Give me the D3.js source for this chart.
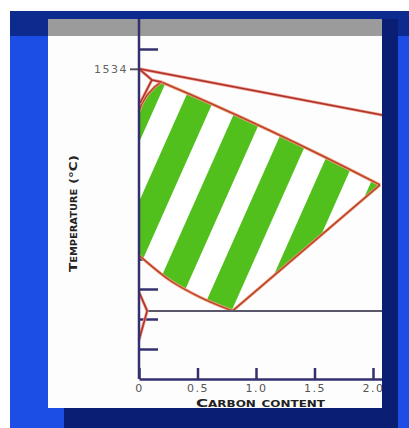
<!DOCTYPE html>
<html>
<head>
<meta charset="utf-8">
<script src="https://cdn.jsdelivr.net/npm/d3@7"></script>
<style>
  body { margin: 0; background: #fff; }
  svg { display: block; }
</style>
</head>
<body>
<svg id="chart" width="409" height="428"></svg>
<script>
// tick values and labels
var xTicks = [0, 0.5, 1.0, 1.5, 2.0]
var xTickLabels = ['0', '0.5', '1.0', '1.5', '2.0']
var yTicks = [600, 700, 800, 900, 1000, 1100, 1200, 1300, 1400, 1600]
var yLabelled = [1534]

// phase boundaries, [carbon %, temperature °C]
var liquidus = [[0, 1534], [2.08, 1380]]
var deltaLine = [[0, 1534], [0.11, 1497], [0.19, 1490], [0.11, 1497], [0.01, 1420]]
var austeniteTop = [[0.19, 1490], [0.13, 1472], [0.07, 1447], [0.025, 1418], [0, 1392]]
var austeniteA3 = [[0, 912], [0.26, 830], [0.52, 773], [0.8, 727]]
var austeniteAcm = [[0.8, 727], [2.06, 1147]]
var austeniteSolidus = [[2.06, 1147], [1.1, 1340], [0.19, 1490]]
var ferriteLine = [[0, 790], [0.07, 727], [0, 630]]
var eutectoid = [[0.07, 727], [2.08, 727]]

var svg = d3.select('#chart')

// slide background
svg.append('rect').attr('x', 10).attr('y', 11).attr('width', 399).attr('height', 417).attr('fill', '#1c4ee6')
svg.append('rect').attr('x', 10).attr('y', 11).attr('width', 399).attr('height', 25).attr('fill', '#0d2b8e')
svg.append('rect').attr('x', 64).attr('y', 19).attr('width', 334).attr('height', 409).attr('fill', '#0a1f74')
svg.append('rect').attr('x', 48).attr('y', 36).attr('width', 334).attr('height', 372).attr('fill', '#fdfdfd')
svg.append('rect').attr('x', 48).attr('y', 19).attr('width', 334).attr('height', 17).attr('fill', '#9b9b9b')

var defs = svg.append('defs')
defs.append('clipPath').attr('id', 'panel')
  .append('rect').attr('x', 48).attr('y', 19).attr('width', 334).attr('height', 389)

var pat = defs.append('pattern')
  .attr('id', 'stripes')
  .attr('patternUnits', 'userSpaceOnUse')
  .attr('width', 51).attr('height', 10)
  .attr('patternTransform', 'rotate(24)')
pat.append('rect').attr('width', 51).attr('height', 10).attr('fill', '#ffffff')
pat.append('rect').attr('x', 5).attr('width', 27).attr('height', 10).attr('fill', '#52c01c')

var g = svg.append('g').attr('clip-path', 'url(#panel)')

var x = d3.scaleLinear().domain([0, 2.077]).range([139, 382])
var y = d3.scaleLinear().domain([500, 1700]).range([379, 19])

var line = d3.line().x(d => x(d[0])).y(d => y(d[1]))
var smooth = d3.line().x(d => x(d[0])).y(d => y(d[1])).curve(d3.curveMonotoneX)

// y ticks (right side)
var yAxis = g.append('g')
  .attr('transform', 'translate(' + x(0) + ',0)')
  .call(d3.axisLeft(y).tickValues(yTicks).tickSize(-19).tickSizeOuter(0).tickFormat(''))
yAxis.select('.domain').remove()
yAxis.selectAll('line').attr('stroke', '#34306f').attr('stroke-width', 2.5)

var yLab = g.append('g')
  .attr('transform', 'translate(' + x(0) + ',0)')
  .call(d3.axisLeft(y).tickValues(yLabelled).tickSize(9).tickPadding(2).tickFormat(d3.format('d')))
yLab.select('.domain').remove()
yLab.selectAll('line').attr('stroke', '#555').attr('stroke-width', 2)
yLab.selectAll('text')
  .attr('font-family', 'DejaVu Sans').attr('font-size', 11)
  .attr('letter-spacing', 1.5).attr('fill', '#666')

// austenite region
var a3Path = smooth(austeniteA3)
var s = austeniteSolidus
var solidusPath = 'M' + x(s[0][0]) + ',' + y(s[0][1]) +
  'Q' + x(s[1][0]) + ',' + y(s[1][1]) + ' ' + x(s[2][0]) + ',' + y(s[2][1])

var regionPath = a3Path +
  'L' + x(austeniteAcm[1][0]) + ',' + y(austeniteAcm[1][1]) +
  solidusPath.replace(/^M[^Q]*/, '') +
  'L' + austeniteTop.slice(1).map(d => x(d[0]) + ',' + y(d[1])).join('L') + 'Z'

g.append('path')
  .attr('d', regionPath)
  .attr('fill', 'url(#stripes)')
  .attr('stroke', 'none')

var outlinePaths = [line(austeniteTop), line(austeniteAcm), solidusPath, a3Path]
g.selectAll('.aglow').data(outlinePaths).enter().append('path')
  .attr('d', d => d).attr('fill', 'none')
  .attr('stroke', '#f3a080').attr('stroke-width', 3).attr('stroke-linejoin', 'round')
g.selectAll('.aline').data(outlinePaths).enter().append('path')
  .attr('d', d => d).attr('fill', 'none')
  .attr('stroke', '#b8452a').attr('stroke-width', 1.5).attr('stroke-linejoin', 'round')

g.append('path').datum(eutectoid).attr('d', line)
  .attr('fill', 'none').attr('stroke', '#58586a').attr('stroke-width', 2)

var redLines = [liquidus, deltaLine, ferriteLine]
g.selectAll('.glow').data(redLines).enter().append('path')
  .attr('d', line).attr('fill', 'none')
  .attr('stroke', '#f49080').attr('stroke-width', 3).attr('stroke-linejoin', 'round')
g.selectAll('.red').data(redLines).enter().append('path')
  .attr('d', line).attr('fill', 'none')
  .attr('stroke', '#a8352a').attr('stroke-width', 1.5).attr('stroke-linejoin', 'round')

// axis lines
g.append('line').attr('x1', x(0)).attr('x2', x(0)).attr('y1', 19).attr('y2', y(500))
  .attr('stroke', '#34306f').attr('stroke-width', 2.5)

var xAxis = g.append('g')
  .attr('transform', 'translate(0,' + y(500) + ')')
  .call(d3.axisBottom(x).tickValues(xTicks).tickSize(-11).tickSizeOuter(0)
    .tickPadding(5).tickFormat((d, i) => xTickLabels[i]))
xAxis.select('.domain').attr('stroke', '#34306f').attr('stroke-width', 2.5)
xAxis.selectAll('line').attr('stroke', '#34306f').attr('stroke-width', 2.5)
xAxis.selectAll('text')
  .attr('font-family', 'DejaVu Sans').attr('font-size', 11)
  .attr('letter-spacing', 1.5).attr('fill', '#555')

// axis titles
g.append('text')
  .attr('x', 196).attr('y', 407)
  .attr('textLength', 129).attr('lengthAdjust', 'spacingAndGlyphs')
  .attr('font-family', 'DejaVu Sans').attr('font-weight', 'bold')
  .attr('font-size', 11).attr('font-variant', 'small-caps').attr('fill', '#222')
  .text('Carbon content')

g.append('text')
  .attr('transform', 'translate(77,272) rotate(-90)')
  .attr('textLength', 117).attr('lengthAdjust', 'spacingAndGlyphs')
  .attr('font-family', 'DejaVu Sans').attr('font-weight', 'bold')
  .attr('font-size', 11).attr('font-variant', 'small-caps').attr('fill', '#222')
  .text('Temperature (°C)')
</script>
</body>
</html>
